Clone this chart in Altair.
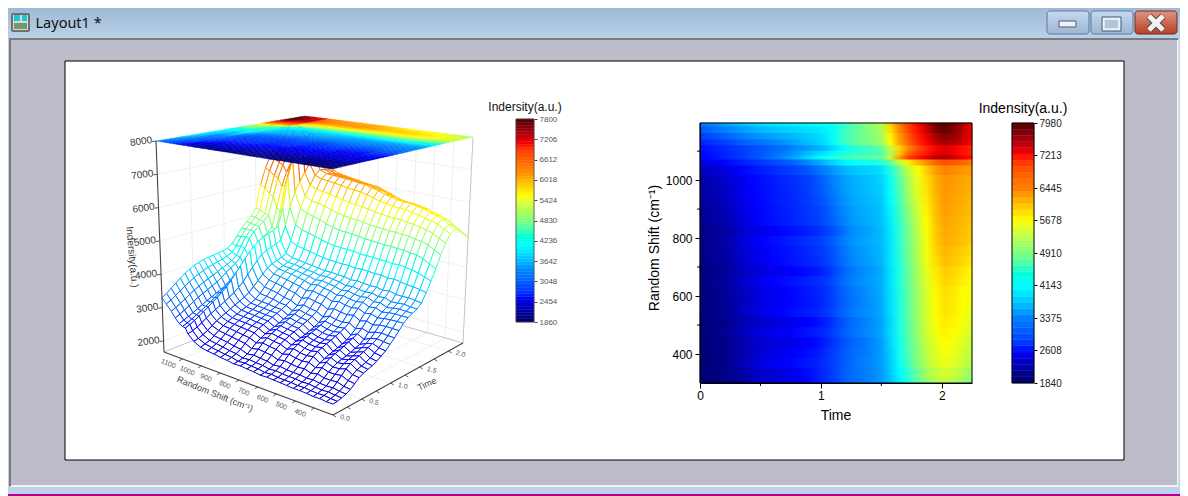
import altair as alt
import numpy as np

alt.data_transformers.disable_max_rows()

W, H = 1172, 488
PAGE = 8

time_grid = [0, .075, .15, .225, .3, .375, .45, .525, .6, .675, .75, .825, .9, .975, 1.05, 1.125, 1.2,
             1.275, 1.35, 1.425, 1.5, 1.575, 1.65, 1.725, 1.8, 1.875, 1.95, 2.025, 2.1, 2.175, 2.25]
shift_grid = [300, 335, 370, 405, 440, 475, 510, 545, 580, 615, 650, 685, 720, 755, 790, 825, 860, 895,
              930, 965, 1000, 1035, 1065, 1078, 1092, 1110, 1130, 1150, 1175, 1197]
intensity_rows = [
 [1950,1960,1990,2030,2090,2180,2280,2340,2380,2420,2480,2560,2640,2760,2880,3020,3170,3270,3340,3400,3520,3760,4040,4340,4700,5000,5220,5300,5220,5080,4900],
 [1950,1970,2000,2040,2110,2200,2300,2370,2410,2450,2510,2590,2670,2780,2890,3030,3170,3270,3340,3410,3540,3800,4110,4440,4800,5100,5330,5420,5340,5190,5020],
 [1970,1990,2020,2070,2165,2280,2395,2480,2535,2575,2625,2685,2735,2805,2905,3035,3165,3275,3355,3440,3570,3830,4180,4550,4910,5210,5440,5550,5480,5340,5170],
 [1960,1980,2010,2060,2150,2250,2340,2420,2470,2510,2560,2620,2680,2760,2880,3020,3150,3260,3330,3420,3560,3850,4230,4620,4980,5280,5500,5620,5560,5420,5250],
 [1980,1990,2025,2070,2150,2250,2330,2385,2425,2455,2495,2545,2595,2680,2815,2970,3115,3225,3305,3410,3570,3880,4260,4640,5000,5310,5540,5670,5610,5470,5310],
 [1990,2010,2050,2100,2200,2310,2400,2470,2520,2560,2610,2670,2720,2780,2880,3030,3180,3300,3390,3480,3620,3920,4290,4680,5050,5370,5610,5750,5690,5560,5410],
 [1985,2000,2035,2080,2160,2250,2320,2375,2425,2465,2505,2555,2605,2690,2815,2980,3145,3270,3365,3460,3595,3900,4280,4680,5060,5390,5640,5790,5730,5600,5460],
 [2000,2020,2060,2110,2215,2335,2435,2520,2570,2620,2660,2720,2770,2830,2930,3090,3235,3355,3440,3515,3635,3940,4310,4710,5090,5430,5690,5840,5780,5660,5530],
 [2010,2020,2060,2110,2200,2310,2400,2470,2530,2580,2620,2680,2730,2800,2890,3050,3200,3320,3410,3500,3630,3940,4310,4710,5090,5430,5690,5850,5790,5670,5540],
 [2020,2030,2070,2120,2220,2330,2420,2490,2550,2600,2640,2700,2750,2820,2910,3070,3220,3340,3430,3520,3650,3960,4330,4730,5110,5450,5720,5880,5820,5700,5580],
 [2030,2050,2090,2150,2255,2375,2475,2545,2605,2655,2695,2755,2805,2865,2955,3115,3275,3395,3480,3555,3675,3970,4340,4750,5130,5480,5760,5930,5880,5770,5650],
 [2020,2035,2070,2125,2215,2315,2395,2460,2510,2550,2590,2640,2690,2765,2870,3045,3220,3355,3445,3530,3655,3960,4340,4760,5150,5510,5800,5980,5930,5830,5720],
 [2050,2070,2110,2170,2280,2390,2480,2550,2610,2660,2710,2770,2820,2890,2980,3140,3300,3430,3510,3590,3700,3990,4380,4800,5190,5560,5870,6060,6010,5920,5810],
 [2060,2080,2120,2190,2300,2410,2500,2570,2630,2680,2730,2790,2850,2920,3010,3170,3330,3460,3540,3620,3710,3990,4390,4820,5220,5590,5930,6120,6060,5980,5880],
 [2080,2100,2140,2210,2325,2445,2540,2610,2670,2720,2780,2840,2900,2970,3060,3220,3380,3510,3585,3650,3730,4000,4400,4840,5240,5620,5980,6180,6120,6050,5960],
 [2070,2085,2120,2180,2280,2385,2465,2535,2585,2635,2685,2745,2805,2880,2985,3150,3325,3460,3550,3635,3730,4010,4410,4860,5270,5650,6010,6200,6140,6070,5980],
 [2100,2130,2180,2250,2360,2470,2560,2630,2690,2740,2800,2860,2920,2990,3090,3250,3410,3530,3610,3680,3760,4040,4450,4900,5310,5690,6040,6230,6170,6100,6020],
 [2120,2150,2200,2280,2390,2490,2580,2650,2700,2760,2810,2870,2930,3010,3120,3290,3450,3570,3640,3700,3790,4080,4500,4970,5380,5740,6080,6260,6210,6140,6060],
 [2150,2180,2240,2320,2420,2520,2600,2670,2730,2780,2830,2890,2960,3060,3190,3350,3500,3620,3680,3740,3820,4130,4570,5060,5450,5800,6120,6280,6240,6170,6100],
 [2170,2210,2270,2350,2450,2550,2620,2680,2740,2800,2850,2910,2980,3090,3230,3390,3540,3650,3710,3770,3850,4170,4630,5120,5500,5840,6150,6300,6260,6200,6140],
 [2210,2250,2300,2380,2480,2570,2640,2700,2760,2820,2870,2930,3000,3120,3270,3430,3570,3680,3730,3790,3880,4210,4680,5180,5540,5880,6180,6320,6290,6230,6180],
 [2310,2340,2400,2470,2560,2650,2720,2780,2850,2920,2980,3050,3140,3270,3410,3560,3700,3790,3840,3890,3970,4320,4800,5290,5650,5980,6270,6420,6380,6320,6260],
 [2470,2510,2570,2640,2730,2810,2880,2950,3020,3100,3190,3300,3430,3600,3770,3940,4080,4170,4220,4280,4360,4760,5320,5800,6100,6370,6620,6750,6690,6600,6490],
 [2620,2670,2740,2820,2900,2990,3090,3180,3290,3400,3560,3730,3900,4080,4250,4390,4510,4590,4650,4700,4790,5320,6300,6850,7100,7320,7520,7580,7450,7300,7120],
 [2640,2690,2760,2830,2900,2980,3070,3150,3240,3340,3460,3600,3740,3880,4030,4170,4310,4400,4470,4530,4640,5180,6020,6560,6860,7090,7290,7370,7260,7120,6960],
 [2690,2740,2800,2860,2930,3000,3070,3130,3200,3260,3340,3450,3550,3650,3790,3980,4210,4360,4470,4570,4730,5320,5960,6400,6730,7000,7220,7340,7270,7130,6960],
 [2820,2880,2950,3030,3110,3190,3260,3320,3390,3460,3550,3660,3760,3850,4000,4230,4500,4680,4800,4920,5080,5640,6220,6620,6960,7230,7480,7620,7560,7400,7200],
 [2980,3040,3120,3200,3290,3370,3450,3520,3580,3640,3700,3770,3830,3900,4030,4270,4530,4700,4820,4940,5110,5720,6280,6680,7030,7310,7590,7750,7670,7480,7260],
 [3150,3220,3310,3400,3490,3580,3660,3730,3790,3840,3880,3920,3960,4000,4080,4240,4500,4700,4850,4990,5190,5870,6410,6790,7120,7450,7790,7900,7750,7520,7280],
 [3300,3380,3490,3600,3710,3810,3890,3960,4010,4050,4080,4100,4120,4140,4190,4290,4480,4690,4860,5010,5230,5960,6480,6860,7180,7530,7880,7960,7800,7560,7300],
]
jet_colors = ['#00005f', '#0000ff', '#0080ff', '#00ffff', '#80ff80', '#ffff00', '#ff8000', '#ff0000', '#500000']
wire_colors = ['#0000c0', '#0000ff', '#0080ff', '#00ffff', '#80ff80', '#ffff00', '#ff8000', '#ff0000', '#500000']

z_ticks = [2000, 3000, 4000, 5000, 6000, 7000, 8000]
shift_ticks_3d = [400, 500, 600, 700, 800, 900, 1000, 1100]
time_ticks_3d = [0.0, 0.5, 1.0, 1.5, 2.0]
left_bar_ticks = [1860, 2454, 3048, 3642, 4236, 4830, 5424, 6018, 6612, 7206, 7800]
right_bar_ticks = [1840, 2608, 3375, 4143, 4910, 5678, 6445, 7213, 7980]

# reference-pixel canvas
cx = alt.Scale(domain=[PAGE, PAGE + W], range=[0, W], nice=False, zero=False)
cy = alt.Scale(domain=[PAGE, PAGE + H], range=[0, H], nice=False, zero=False)
X = alt.X('x:Q', scale=cx, axis=None)
Y = alt.Y('y:Q', scale=cy, axis=None)
X2 = alt.X2('x2:Q')
Y2 = alt.Y2('y2:Q')


def boxes(rows, **mark):
    data = [dict(x=r[0], y=r[1], x2=r[2], y2=r[3]) for r in rows]
    return alt.Chart(alt.Data(values=data)).mark_rect(**mark).encode(x=X, y=Y, x2=X2, y2=Y2)


def vgrad(c0, c1):
    return alt.LinearGradient(gradient='linear', x1=0, x2=0, y1=0, y2=1,
                              stops=[alt.GradientStop(color=c0, offset=0), alt.GradientStop(color=c1, offset=1)])


def label(rows, **mark):
    data = [dict(x=r[0], y=r[1], t=r[2]) for r in rows]
    mark.setdefault('font', 'Liberation Sans')
    return alt.Chart(alt.Data(values=data)).mark_text(**mark).encode(x=X, y=Y, text='t:N')


def segs(rows, color, width):
    data = [dict(x=a[0], y=a[1], x2=b[0], y2=b[1]) for a, b in rows]
    return alt.Chart(alt.Data(values=data)).mark_rule(color=color, strokeWidth=width).encode(x=X, y=Y, x2=X2, y2=Y2)


layers = []
# ---- window chrome
layers += [
    boxes([(0, 0, 1188, 496)], fill='#b4008c'),
    boxes([(3, 3, 1185, 494)], fill='#bcd3ea'),
    boxes([(3, 3, 1185, 39)], fill=vgrad('#9ab6d3', '#bad2e9')),
    boxes([(9, 38, 1178, 486)], fill='#7a7a7a'),
    boxes([(11, 40, 1178.5, 487)], fill='#f2f2f2'),
    boxes([(11, 40, 1177, 485)], fill='#bdbccb'),
    boxes([(65, 61, 1124, 460)], fill='#ffffff', stroke='#000000', strokeWidth=1),
    boxes([(11, 13, 30, 32)], fill='#6f6f6f', cornerRadius=2),
    boxes([(13, 15, 28, 30)], fill='#d8dcd0'),
    boxes([(14, 15, 20, 21), (22, 15, 27, 21)], fill='#18c8d8'),
    boxes([(14, 23, 27, 29)], fill='#6f9a6a'),
    label([(35.5, 24, 'Layout1 *')], font='Noto Sans', fontSize=14.5, align='left', baseline='middle', color='#101010'),
    boxes([(1047, 11, 1089, 34), (1091, 11, 1133, 34)], fill=vgrad('#c6d9ee', '#9cb6d4'), stroke='#5d7b9e', strokeWidth=1, cornerRadius=3),
    boxes([(1135, 11, 1177, 34)], fill=vgrad('#e09383', '#b53f25'), stroke='#7a2b25', strokeWidth=1, cornerRadius=3),
    boxes([(1059, 21, 1076, 27)], fill='#f0f2f5', stroke='#4a5a70', strokeWidth=1),
    boxes([(1103.5, 18.5, 1119.5, 29.5)], fill='#b0c4dc', stroke='#f0f2f5', strokeWidth=2.5),
    boxes([(1102, 17, 1121, 31)], filled=False, stroke='#4a5a70', strokeWidth=1),
    segs([((1149, 16), (1163, 30)), ((1163, 16), (1149, 30))], '#5a4a4a', 7),
    segs([((1149, 16), (1163, 30)), ((1163, 16), (1149, 30))], '#f2f2f2', 5),
]

# ---- 3D projection of the box
base = dict(F=(333, 415), R=(463, 343), L=(164, 352), B=(303, 297))
top = dict(F=(332, 169), R=(473, 137), L=(156, 141), B=(305, 116))
Z0, Z1 = 1670, 8000
TMAX, SMIN, SMAX = 2.25, 300, 1197


def blin(c, u, v):
    return tuple((1 - u) * (1 - v) * c['F'][i] + u * (1 - v) * c['R'][i] + (1 - u) * v * c['L'][i] + u * v * c['B'][i] for i in (0, 1))


def P(t, s, z):
    u, v = t / TMAX, (s - SMIN) / (SMAX - SMIN)
    a, b = blin(base, u, v), blin(top, u, v)
    w = (z - Z0) / (Z1 - Z0)
    return (a[0] + (b[0] - a[0]) * w, a[1] + (b[1] - a[1]) * w)


wall = []
for z in z_ticks[:-1]:
    wall += [(P(0, SMAX, z), P(TMAX, SMAX, z)), (P(TMAX, SMAX, z), P(TMAX, SMIN, z))]
for t in time_ticks_3d[1:]:
    wall += [(P(t, SMAX, Z0), P(t, SMAX, Z1)), (P(t, SMIN, Z0), P(t, SMAX, Z0))]
for s in shift_ticks_3d:
    wall += [(P(TMAX, s, Z0), P(TMAX, s, Z1)), (P(0, s, Z0), P(TMAX, s, Z0))]
frame3d = [(P(0, SMAX, Z0), P(TMAX, SMAX, Z0)), (P(TMAX, SMAX, Z0), P(TMAX, SMIN, Z0)),
           (P(TMAX, SMAX, Z0), P(TMAX, SMAX, Z1)), (P(TMAX, SMIN, Z0), P(TMAX, SMIN, Z1))]
layers += [segs(wall, '#ececec', 0.8), segs(frame3d, '#c4c4c4', 1)]

# ---- wireframe surface and the flat map on the roof, painted back to front
jet_surface = alt.Scale(domain=list(np.linspace(1860, 7800, 9)), range=wire_colors, clamp=True)
jet_roof = alt.Scale(domain=list(np.linspace(1860, 7800, 9)), range=jet_colors, clamp=True)
wire, roof = [], []
qid = 0
for j in range(len(shift_grid) - 2, -1, -1):
    for i in range(len(time_grid) - 2, -1, -1):
        corners = [(i, j), (i + 1, j), (i + 1, j + 1), (i, j + 1), (i, j)]
        c = sum(intensity_rows[b][a] for a, b in corners[:4]) / 4
        for k, (a, b) in enumerate(corners):
            p = P(time_grid[a], shift_grid[b], intensity_rows[b][a])
            wire.append(dict(q=qid, k=k, x=round(p[0], 2), y=round(p[1], 2), c=round(c)))
            p = P(time_grid[a], shift_grid[b], Z1)
            roof.append(dict(q=qid, k=k, x=round(p[0], 2), y=round(p[1], 2), c=round(c)))
        qid += 1

layers.append(alt.Chart(alt.Data(values=wire)).mark_line(fill='#ffffff', strokeWidth=1.0).encode(
    x=X, y=Y, detail='q:N', order='k:Q', stroke=alt.Stroke('c:Q', scale=jet_surface, legend=None)))
layers.append(alt.Chart(alt.Data(values=roof)).mark_line(strokeWidth=0.4).encode(
    x=X, y=Y, detail='q:N', order='k:Q',
    stroke=alt.Stroke('c:Q', scale=jet_roof, legend=None),
    fill=alt.Fill('c:Q', scale=jet_roof, legend=None)))

# ---- 3D axes
axes_dark = [(P(0, SMAX, Z0), P(0, SMAX, Z1)), (P(0, SMAX, Z0), P(0, SMIN, Z0)), (P(0, SMIN, Z0), P(TMAX, SMIN, Z0))]
ticks = []
for z in z_ticks:
    p = P(0, SMAX, z)
    ticks.append((p, (p[0] - 4, p[1] + 0.5)))
for s in shift_ticks_3d:
    p = P(0, s, Z0)
    ticks.append((p, (p[0] - 3, p[1] + 2)))
for t in time_ticks_3d + [0.25, 0.75, 1.25, 1.75]:
    p = P(t, SMIN, Z0)
    ticks.append((p, (p[0] + 3, p[1] + 2)))
layers += [segs(axes_dark, '#444444', 1.1), segs(ticks, '#444444', 0.9)]

z_lab = [(P(0, SMAX, z)[0] - 15, P(0, SMAX, z)[1] + 0.5, str(z)) for z in z_ticks]
s_lab = [(P(0, s, Z0)[0] - 14, P(0, s, Z0)[1] + 5, str(s)) for s in shift_ticks_3d]
t_lab = [(P(t, SMIN, Z0)[0] + 12, P(t, SMIN, Z0)[1] + 3, f'{t:.1f}') for t in time_ticks_3d]
layers += [
    label(z_lab, fontSize=10, color='#333333', angle=352, align='center', baseline='middle'),
    label(s_lab, fontSize=7, color='#555555', angle=22, align='center', baseline='middle'),
    label(t_lab, fontSize=7, color='#555555', angle=14, align='center', baseline='middle'),
    label([(215, 394, 'Random Shift (cm⁻¹)')], fontSize=9, color='#444444', angle=22, align='center', baseline='middle'),
    label([(427, 384, 'Time')], fontSize=9, color='#444444', angle=335, align='center', baseline='middle'),
    label([(132, 257, 'Indersity(a.u.)')], fontSize=10, color='#333333', angle=85, align='center', baseline='middle'),
    label([(525, 107, 'Indersity(a.u.)')], fontSize=12, color='#111111', align='center', baseline='middle'),
]

# ---- colour bars
def colour_bar(ticks_, x0, x1, y0, y1, n, lab_size, lab_color, tick_col):
    lo, hi = ticks_[0], ticks_[-1]
    edges = np.linspace(lo, hi, n + 1)
    rows = [dict(x=x0, x2=x1, lo=float(edges[i]), hi=float(edges[i + 1]), m=float((edges[i] + edges[i + 1]) / 2)) for i in range(n)]
    scale = alt.Scale(domain=list(np.linspace(lo, hi, 9)), range=jet_colors)
    ys = alt.Scale(domain=[lo, hi], range=[y0 - PAGE, y1 - PAGE], nice=False, zero=False)
    return alt.Chart(alt.Data(values=rows)).mark_rect(strokeWidth=0.4).encode(
        x=X, x2=X2,
        y=alt.Y('lo:Q', scale=ys, axis=alt.Axis(
            orient='right', offset=-(W - (x1 - PAGE)), values=ticks_, title=None, grid=False, domain=False,
            labelFont='Liberation Sans', labelFontSize=lab_size, labelColor=lab_color, tickColor=tick_col,
            tickSize=3, labelPadding=2, zindex=1, labelOverlap=False, format='d')),
        y2=alt.Y2('hi:Q'),
        fill=alt.Fill('m:Q', scale=scale, legend=None),
        stroke=alt.Stroke('m:Q', scale=scale, legend=None))


layers.append(colour_bar(left_bar_ticks, 516, 534, 322, 119, 64, 8, '#555555', '#444444'))
layers.append(boxes([(516, 119, 534, 322)], filled=False, stroke='#444444', strokeWidth=0.8))
layers.append(colour_bar(right_bar_ticks, 1012, 1034, 383, 123, 42, 10, '#222222', '#000000'))

# ---- heat map
te = [0.0] + [(a + b) / 2 for a, b in zip(time_grid, time_grid[1:])] + [TMAX]
se = [SMIN] + [(a + b) / 2 for a, b in zip(shift_grid, shift_grid[1:])] + [SMAX]
heat = []
for j in range(len(shift_grid)):
    for i in range(len(time_grid)):
        heat.append(dict(t0=te[i], t1=te[i + 1], s0=se[j], s1=se[j + 1], c=intensity_rows[j][i]))
heat_col = alt.Scale(domain=list(np.linspace(1840, 7980, 9)), range=jet_colors)
hx = alt.Scale(domain=[0, TMAX], range=[700 - PAGE, 972 - PAGE], nice=False, zero=False)
hy = alt.Scale(domain=[SMIN, SMAX], range=[383 - PAGE, 123 - PAGE], nice=False, zero=False)
layers.append(alt.Chart(alt.Data(values=heat)).mark_rect(strokeWidth=0.6).encode(
    x=alt.X('t0:Q', scale=hx, axis=alt.Axis(orient='bottom', offset=-(H - (383 - PAGE)), values=[0, 1, 2], title=None, grid=False,
                                             labelFont='Liberation Sans', labelFontSize=12, labelColor='#000000', tickColor='#000000',
                                             domainColor='#000000', tickSize=5, labelPadding=2, zindex=1, format='d', labelFlush=False)),
    x2=alt.X2('t1:Q'),
    y=alt.Y('s0:Q', scale=hy, axis=alt.Axis(orient='left', offset=-(700 - PAGE), values=[400, 600, 800, 1000], title=None, grid=False,
                                             labelFont='Liberation Sans', labelFontSize=12, labelColor='#000000', tickColor='#000000',
                                             domainColor='#000000', tickSize=5, labelPadding=3, zindex=1, format='d')),
    y2=alt.Y2('s1:Q'),
    fill=alt.Fill('c:Q', scale=heat_col, legend=None),
    stroke=alt.Stroke('c:Q', scale=heat_col, legend=None)))


def heat_hex(v):
    f = (v - 1840) / (7980 - 1840) * 8
    i = min(int(f), 7)
    a, b = jet_colors[i], jet_colors[i + 1]
    ca = [int(a[k:k + 2], 16) for k in (1, 3, 5)]
    cb = [int(b[k:k + 2], 16) for k in (1, 3, 5)]
    return '#%02x%02x%02x' % tuple(round(p + (q - p) * (f - i)) for p, q in zip(ca, cb))


# each spectrum row shades smoothly along time between its own read values
for j, row in enumerate(intensity_rows):
    stops = [alt.GradientStop(color=heat_hex(v), offset=t / TMAX) for t, v in zip(time_grid, row)]
    fill = alt.LinearGradient(gradient='linear', x1=0, x2=1, y1=0, y2=0, stops=stops)
    band = [dict(t0=0, t1=TMAX, s0=se[j], s1=min(se[j + 1] + 2, SMAX))]
    layers.append(alt.Chart(alt.Data(values=band)).mark_rect(fill=fill).encode(
        x=alt.X('t0:Q', scale=hx, axis=None), x2=alt.X2('t1:Q'),
        y=alt.Y('s0:Q', scale=hy, axis=None), y2=alt.Y2('s1:Q')))

# minor ticks
layers.append(alt.Chart(alt.Data(values=[dict(t=v) for v in [0.5, 1.5]])).mark_rule(color='#000000', strokeWidth=1).encode(
    x=alt.X('t:Q', scale=hx, axis=None), y=alt.value(383 - PAGE), y2=alt.value(386 - PAGE)))
layers.append(alt.Chart(alt.Data(values=[dict(s=v) for v in [500, 700, 900, 1100]])).mark_rule(color='#000000', strokeWidth=1).encode(
    y=alt.Y('s:Q', scale=hy, axis=None), x=alt.value(697 - PAGE), x2=alt.value(700 - PAGE)))
layers += [
    boxes([(700, 123, 972, 383)], filled=False, stroke='#000000', strokeWidth=1),
    boxes([(1012, 123, 1034, 383)], filled=False, stroke='#000000', strokeWidth=1),
    label([(836, 416, 'Time')], fontSize=14, color='#000000', align='center', baseline='middle'),
    label([(655, 248, 'Random Shift (cm⁻¹)')], fontSize=14, color='#000000', angle=270, align='center', baseline='middle'),
    label([(1023, 109, 'Indensity(a.u.)')], fontSize=14, color='#000000', align='center', baseline='middle'),
]

chart = alt.layer(*layers).resolve_scale(x='independent', y='independent', fill='independent', stroke='independent').properties(
    width=W, height=H, padding=0, autosize=alt.AutoSizeParams(type='none', contains='content'),
).configure_view(stroke=None)

chart.save("out.html", embed_options={"renderer": "svg", "actions": False})
